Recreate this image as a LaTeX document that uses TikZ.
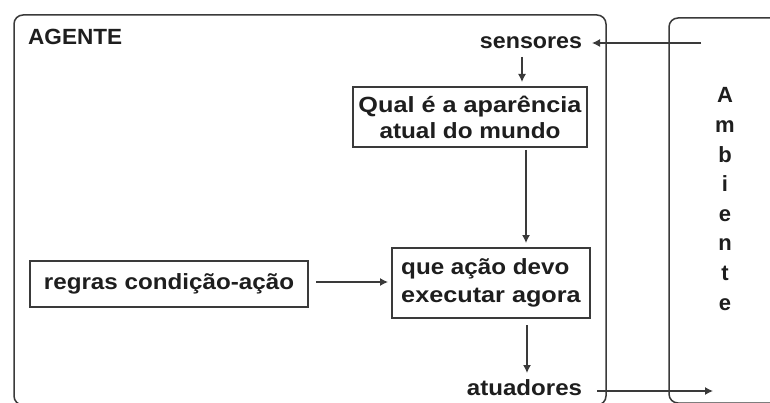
\documentclass[tikz,border=0pt]{standalone}
\usepackage{fontspec}
\setmainfont{Liberation Sans}
\usetikzlibrary{arrows.meta}
\definecolor{linec}{HTML}{3A3A3A}
\definecolor{txtc}{HTML}{1E1E1E}
\newcommand{\lblfont}{\fontsize{22}{26}\selectfont\bfseries}
\newcommand{\sx}[2]{\scalebox{#1}[1]{#2}}
\begin{document}
\begin{tikzpicture}[x=1pt,y=-1pt]
\tikzset{
  frame/.style={draw=linec, line width=1.5pt, rounded corners=9pt},
  box/.style={draw=linec, line width=1.3pt, inner sep=0pt, font=\lblfont, text=txtc},
  lbl/.style={font=\lblfont, inner sep=0pt, text=txtc},
  arr/.style={draw=linec, line width=1.3pt, -{Latex[length=8pt,width=8pt]}}
}
\fill[white] (0,0) rectangle (770,403);
\useasboundingbox (0,0) rectangle (770,403);
\clip (0,0) rectangle (770,403);
% frames
\draw[frame] (14,15) rectangle (606,405);
\draw[frame] (669,18) rectangle (800,403);
% labels
\node[lbl, anchor=base west] (agente) at (28,45) {\sx{1.025}{AGENTE}};
\node[lbl, anchor=base] (sensores) at (531,49) {\sx{1.056}{sensores}};
\node[lbl, anchor=base] (atuadores) at (524.5,395) {\sx{1.095}{atuadores}};
\node[lbl, anchor=base, align=center, font=\fontsize{22}{29.6}\selectfont\bfseries] (amb) at (725,310)
  {A\\m\\b\\i\\e\\n\\t\\e};
% boxes
\node[box, align=center, minimum width=234pt, minimum height=60pt] (qual) at (470,117)
  {\sx{1.147}{Qual é a aparência}\\\sx{1.105}{atual do mundo}};
\node[box, minimum width=278pt, minimum height=46pt] (regras) at (169,284)
  {\sx{1.10}{regras condição-ação}};
\node[box, align=left, font=\fontsize{22}{28}\selectfont\bfseries, minimum width=198pt, minimum height=70pt] (que) at (491,283)
  {\sx{1.10}{que ação devo}\\\sx{1.147}{executar agora}};
% connector end points
\coordinate (ambIn) at (701,43);
\coordinate (sensTip) at (592,43);
\coordinate (sensDown) at (522,57);
\coordinate (qualTop) at (522,82);
\coordinate (qualDown) at (526,150);
\coordinate (queTop) at (526,243);
\coordinate (queDown) at (527,325);
\coordinate (atuTop) at (527,373);
\coordinate (atuOut) at (597,391);
\coordinate (ambOut) at (713,391);
\coordinate (regOut) at (316,282);
\coordinate (queIn) at (388,282);
% connectors
\draw[arr] (ambIn) -- (sensTip);
\draw[arr] (sensDown) -- (qualTop);
\draw[arr] (qualDown) -- (queTop);
\draw[arr] (regOut) -- (queIn);
\draw[arr] (queDown) -- (atuTop);
\draw[arr] (atuOut) -- (ambOut);
\end{tikzpicture}
\end{document}
